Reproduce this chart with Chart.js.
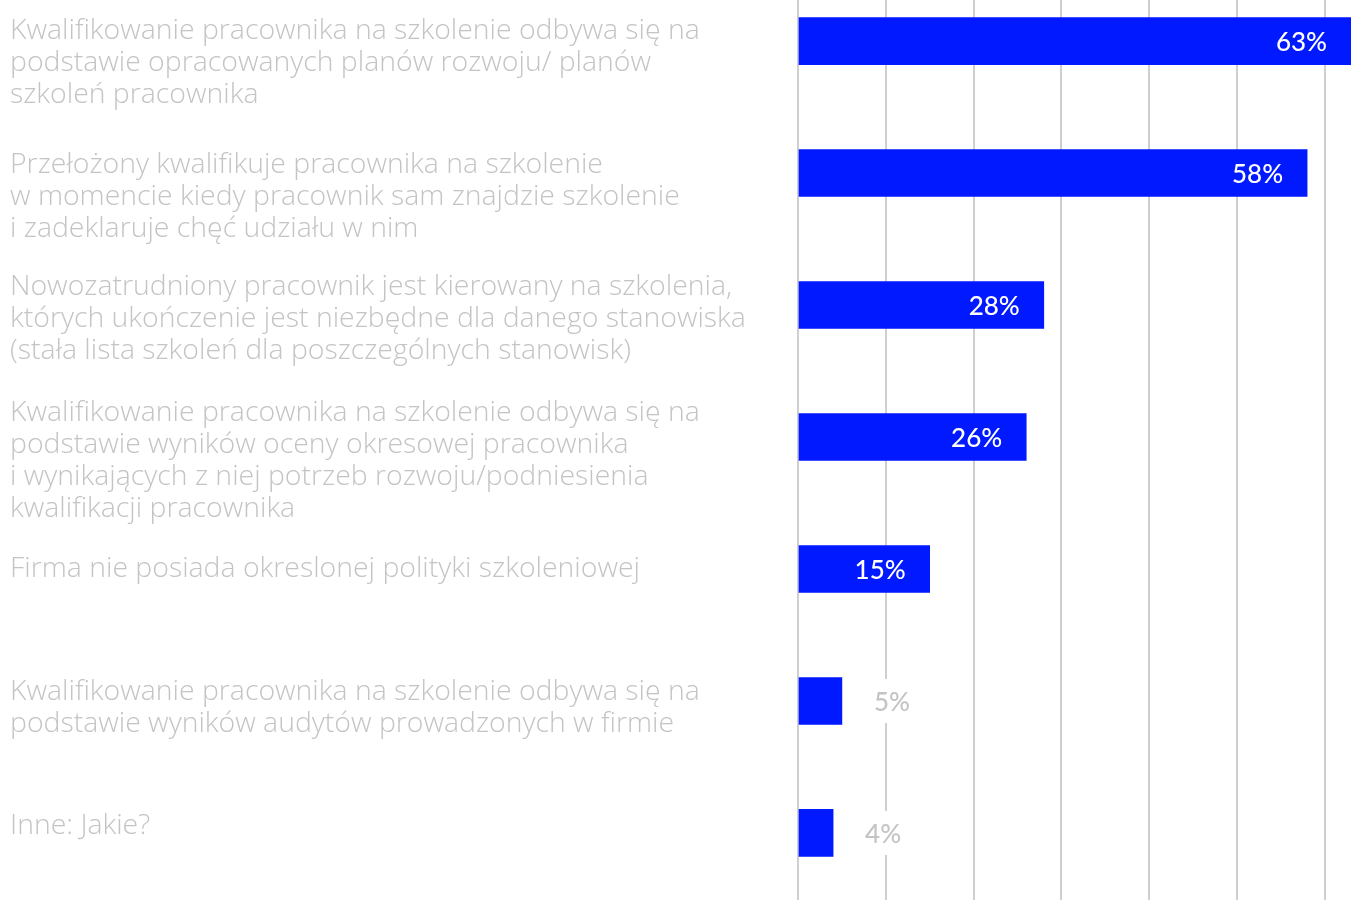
<!DOCTYPE html>
<html>
<head>
<meta charset="utf-8">
<script src="https://cdn.jsdelivr.net/npm/chart.js@4.4.1/dist/chart.umd.min.js"></script>
<style>
  html, body { margin: 0; padding: 0; background: #fff; }
  #wrap { position: relative; width: 1351px; height: 900px; }
</style>
</head>
<body>
<div id="wrap"><canvas id="policyChart"></canvas></div>
<script>
// answers (each one split into the lines shown on the left)
const categories = [
  ["Kwalifikowanie pracownika na szkolenie odbywa się na", "podstawie opracowanych planów rozwoju/ planów", "szkoleń pracownika"],
  ["Przełożony kwalifikuje pracownika na szkolenie", "w momencie kiedy pracownik sam znajdzie szkolenie", "i zadeklaruje chęć udziału w nim"],
  ["Nowozatrudniony pracownik jest kierowany na szkolenia,", "których ukończenie jest niezbędne dla danego stanowiska", "(stała lista szkoleń dla poszczególnych stanowisk)"],
  ["Kwalifikowanie pracownika na szkolenie odbywa się na", "podstawie wyników oceny okresowej pracownika", "i wynikających z niej potrzeb rozwoju/podniesienia", "kwalifikacji pracownika"],
  ["Firma nie posiada okreslonej polityki szkoleniowej"],
  ["Kwalifikowanie pracownika na szkolenie odbywa się na", "podstawie wyników audytów prowadzonych w firmie"],
  ["Inne: Jakie?"]
];
const shares = [63, 58, 28, 26, 15, 5, 4];
const gridSteps = [0, 10, 20, 30, 40, 50, 60];

const BLUE = "rgb(0, 25, 255)";
const GREY_TEXT = "#c4c4c4";
const GRID = "#cfcfcf";
const LABEL_FAMILY = "'Open Sans', Lato, sans-serif";
const VALUE_FONT = "500 26px Lato, 'Open Sans', sans-serif";
// first-line offset of each answer text below the top of its bar
const LABEL_DROP = [13, 15, 5, -1, 23, 14, 16];

// answer texts drawn in the left margin, hanging from the top of each bar
const answerLabels = {
  id: "answerLabels",
  afterDraw(chart) {
    const ctx = chart.ctx;
    const y = chart.scales.y;
    const half = chart.getDatasetMeta(0).data[0].height / 2;
    ctx.save();
    // size the text so the first answer line runs up to the 700px mark
    ctx.font = "300 100px " + LABEL_FAMILY;
    const size = 100 * 690 / ctx.measureText(categories[0][0]).width;
    ctx.font = "300 " + size.toFixed(2) + "px " + LABEL_FAMILY;
    ctx.fillStyle = GREY_TEXT;
    ctx.textAlign = "left";
    ctx.textBaseline = "middle";
    categories.forEach((lines, i) => {
      const top = y.getPixelForValue(i) - half;
      lines.forEach((line, j) => ctx.fillText(line, 10, top + LABEL_DROP[i] + j * 32));
    });
    ctx.restore();
  }
};

// percentage labels: white inside long bars, grey on a white patch beside short ones
const valueLabels = {
  id: "valueLabels",
  afterDatasetsDraw(chart) {
    const ctx = chart.ctx;
    ctx.save();
    ctx.font = VALUE_FONT;
    ctx.textBaseline = "middle";
    chart.getDatasetMeta(0).data.forEach((bar, i) => {
      const text = shares[i] + "%";
      if (shares[i] >= 10) {
        ctx.textAlign = "right";
        ctx.fillStyle = "#ffffff";
        ctx.fillText(text, bar.x - 24, bar.y + 2);
      } else {
        const w = ctx.measureText(text).width;
        const x = bar.x + 32;
        ctx.fillStyle = "#ffffff";
        ctx.fillRect(x - 4, bar.y - 22, w + 8, 44);
        ctx.textAlign = "left";
        ctx.fillStyle = GREY_TEXT;
        ctx.fillText(text, x, bar.y + 2);
      }
    });
    ctx.restore();
  }
};

new Chart(document.getElementById("policyChart"), {
  type: "bar",
  data: {
    datasets: [{
      data: shares.map((v, i) => ({ x: v, y: i })),
      backgroundColor: BLUE,
      borderWidth: 0,
      barThickness: 47
    }]
  },
  options: {
    indexAxis: "y",
    responsive: true,
    maintainAspectRatio: false,
    animation: false,
    layout: { padding: { left: 798, right: 0, top: 0, bottom: 0 } },
    plugins: { legend: { display: false }, tooltip: { enabled: false } },
    scales: {
      x: {
        type: "linear",
        min: 0,
        max: 63,
        afterBuildTicks: (axis) => { axis.ticks = gridSteps.map(v => ({ value: v })); },
        ticks: { display: false },
        border: { display: false },
        grid: { color: GRID, lineWidth: 2, drawTicks: false }
      },
      y: {
        type: "linear",
        reverse: true,
        offset: false,
        min: -0.311,
        max: 6.508,
        display: false
      }
    }
  },
  plugins: [answerLabels, valueLabels]
});
</script>
</body>
</html>
